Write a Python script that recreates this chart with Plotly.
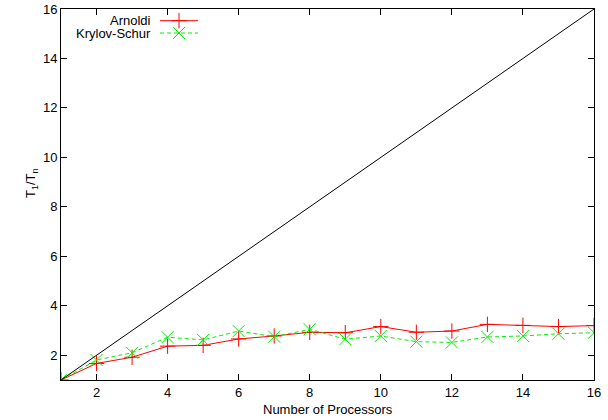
import plotly.graph_objects as go

# Speedup T1/Tn versus processor count
processors = list(range(1, 17))
arnoldi = [1.0, 1.67, 1.92, 2.37, 2.40, 2.66, 2.78, 2.93, 2.91, 3.16, 2.93, 2.98, 3.25, 3.21, 3.16, 3.20]
krylov_schur = [1.0, 1.81, 2.10, 2.73, 2.62, 2.98, 2.75, 3.05, 2.65, 2.78, 2.55, 2.52, 2.74, 2.78, 2.87, 2.91]
ideal = [1, 16]

tick_vals = [2, 4, 6, 8, 10, 12, 14, 16]
series_names = ["Arnoldi", "Krylov-Schur"]

RED = "#ff0000"
GREEN = "#00f000"
FONT = "Liberation Sans, Arial, sans-serif"

fig = go.Figure()

fig.add_trace(go.Scatter(
    x=processors, y=arnoldi, mode="lines+markers",
    line=dict(color=RED, width=1),
    marker=dict(symbol="cross-thin-open", size=11, color=RED, line=dict(color=RED, width=1)),
    showlegend=False,
))
fig.add_trace(go.Scatter(
    x=processors, y=krylov_schur, mode="lines+markers",
    line=dict(color=GREEN, width=1, dash="4px,3px"),
    marker=dict(symbol="x-thin-open", size=12, color=GREEN, line=dict(color=GREEN, width=1)),
    showlegend=False,
))
fig.add_trace(go.Scatter(
    x=ideal, y=ideal, mode="lines",
    line=dict(color="black", width=1),
    showlegend=False,
))

# Key samples drawn on an overlay axis spanning the plot area (0..1)
key_rows = [0.9685, 0.9353]
key_styles = [
    (RED, "solid", "cross-thin-open", 11),
    (GREEN, "4px,3px", "x-thin-open", 12),
]
for (color, dash, sym, size), yk in zip(key_styles, key_rows):
    fig.add_trace(go.Scatter(
        x=[0.1857, 0.257], y=[yk, yk], mode="lines",
        line=dict(color=color, width=1, dash=dash),
        xaxis="x2", yaxis="y2", showlegend=False, hoverinfo="skip",
    ))
    fig.add_trace(go.Scatter(
        x=[0.2214], y=[yk], mode="markers",
        marker=dict(symbol=sym, size=size, color=color, line=dict(color=color, width=1)),
        xaxis="x2", yaxis="y2", showlegend=False, hoverinfo="skip",
    ))

annotations = []
for name, yk in zip(series_names, key_rows):
    annotations.append(dict(
        text=name, x=0.1726, y=yk, xref="x2 domain", yref="y2",
        xanchor="right", yanchor="middle", showarrow=False,
        font=dict(family=FONT, size=13, color="black"),
    ))

annotations.append(dict(
    text="Number of Processors", x=0.5, y=-0.08, xref="paper", yref="paper",
    xanchor="center", yanchor="middle", showarrow=False,
    font=dict(family=FONT, size=13, color="black"),
))
annotations.append(dict(
    text="T<sub>1</sub>/T<sub>n</sub>", x=-0.055, y=0.53, xref="paper", yref="paper",
    xanchor="center", yanchor="middle", showarrow=False, textangle=-90,
    font=dict(family=FONT, size=13, color="black"),
))

axis_common = dict(
    showgrid=False, zeroline=False, automargin=False,
    showline=True, linecolor="black", linewidth=1, mirror="allticks",
    ticks="inside", ticklen=6, tickwidth=1, tickcolor="black",
    tickvals=tick_vals,
    tickfont=dict(family=FONT, size=13, color="black"),
)

fig.update_layout(
    width=608, height=420,
    margin=dict(l=61, r=14, t=9, b=40),
    paper_bgcolor="white", plot_bgcolor="white",
    xaxis=dict(range=[1, 16], **axis_common),
    yaxis=dict(range=[1, 16], **axis_common),
    xaxis2=dict(range=[0, 1], overlaying="x", visible=False, fixedrange=True, automargin=False),
    yaxis2=dict(range=[0, 1], overlaying="y", visible=False, fixedrange=True, automargin=False),
    annotations=annotations,
    showlegend=False,
)

fig.write_html("out.html")
